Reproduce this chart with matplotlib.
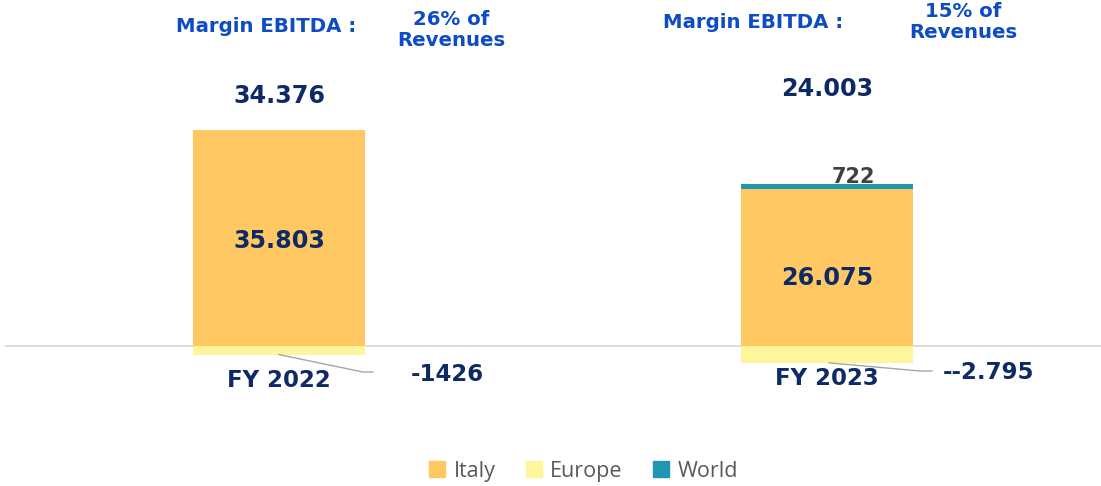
import matplotlib
matplotlib.use("Agg")
import matplotlib.pyplot as plt
from matplotlib.patches import Patch

categories = ["FY 2022", "FY 2023"]
italy = [35803, 26075]
europe = [-1426, -2795]
world = [0, 722]
totals_label = ["34.376", "24.003"]
italy_label = ["35.803", "26.075"]
europe_label = ["-1426", "--2.795"]
world_label = ["", "722"]
margin_pct = ["26% of\nRevenues", "15% of\nRevenues"]

C_ITALY = "#FFC862"
C_EUROPE = "#FFF59B"
C_WORLD = "#2196B0"
NAVY = "#0E2A66"
TBLUE = "#0D4CC4"

fig = plt.figure(figsize=(11.01, 4.86), dpi=100)
ax = fig.add_axes([5/1101, 56/486, 1096/1101, 430/486])
x = list(range(len(categories)))
w = 0.315
ax.bar(x, italy, width=w, color=C_ITALY, label="Italy", zorder=2)
ax.bar(x, europe, width=w, color=C_EUROPE, label="Europe", zorder=2)
ax.bar(x, world, width=w, bottom=italy, color=C_WORLD, label="World", zorder=2)
ax.set_xlim(-0.5, 1.5)
ax.set_ylim(-13923, 57350)
ax.axhline(0, color="#D9D9D9", lw=1.3, zorder=1)
for s in ax.spines.values():
    s.set_visible(False)
ax.set_xticks([]); ax.set_yticks([])

fb = dict(fontweight="bold", family="DejaVu Sans")
# titles
ax.text(-0.0237, 53040, "Margin EBITDA :", ha="center", va="center", color=TBLUE, fontsize=14.2, **fb)
ax.text(0.865, 53703, "Margin EBITDA :", ha="center", va="center", color=TBLUE, fontsize=14.2, **fb)
ax.text(0.3139, 52377, margin_pct[0], ha="center", va="center", color=TBLUE, fontsize=14.2, linespacing=1.15, **fb)
ax.text(1.248, 53703, margin_pct[1], ha="center", va="center", color=TBLUE, fontsize=14.2, linespacing=1.15, **fb)

# totals
ax.text(0, 41437, totals_label[0], ha="center", va="center", color=NAVY, fontsize=17.2, **fb)
ax.text(1.0, 42600, totals_label[1], ha="center", va="center", color=NAVY, fontsize=17.2, **fb)
# italy
for i in x:
    ax.text(i, italy[i] / 2 + (-500 if i == 0 else -1700), italy_label[i], ha="center", va="center",
            color=NAVY, fontsize=17.2, **fb)
# world
ax.text(1.0475, 28012, world_label[1], ha="center", va="center", color="#404040", fontsize=15, **fb)
# FY labels
ax.text(0, -5801, categories[0], ha="center", va="center", color=NAVY, fontsize=16.5, **fb)
ax.text(1.0, -5304, categories[1], ha="center", va="center", color=NAVY, fontsize=16.5, **fb)
# europe labels + leaders
ax.text(0.3066, -4641, europe_label[0], ha="center", va="center", color=NAVY, fontsize=16.5, **fb)
ax.text(1.2938, -4475, europe_label[1], ha="center", va="center", color=NAVY, fontsize=16.5, **fb)
ax.plot([0.0, 0.1533, 0.1715], [europe[0], -4310, -4310], color="#A6A6A6", lw=1, zorder=3)
ax.plot([1.0036, 1.1697, 1.1916], [europe[1], -4144, -4144], color="#A6A6A6", lw=1, zorder=3)

handles = [Patch(color=C_ITALY, label="Italy"), Patch(color=C_EUROPE, label="Europe"),
           Patch(color=C_WORLD, label="World")]
fig.legend(handles=handles, loc="center", bbox_to_anchor=(0.530, 15/486), ncol=3, frameon=False,
           prop={"family": "Open Sans", "size": 15.5}, labelcolor="#595959",
           handlelength=0.75, handleheight=0.75, handletextpad=0.4, columnspacing=1.4)

fig.savefig("out.png", dpi=100)
